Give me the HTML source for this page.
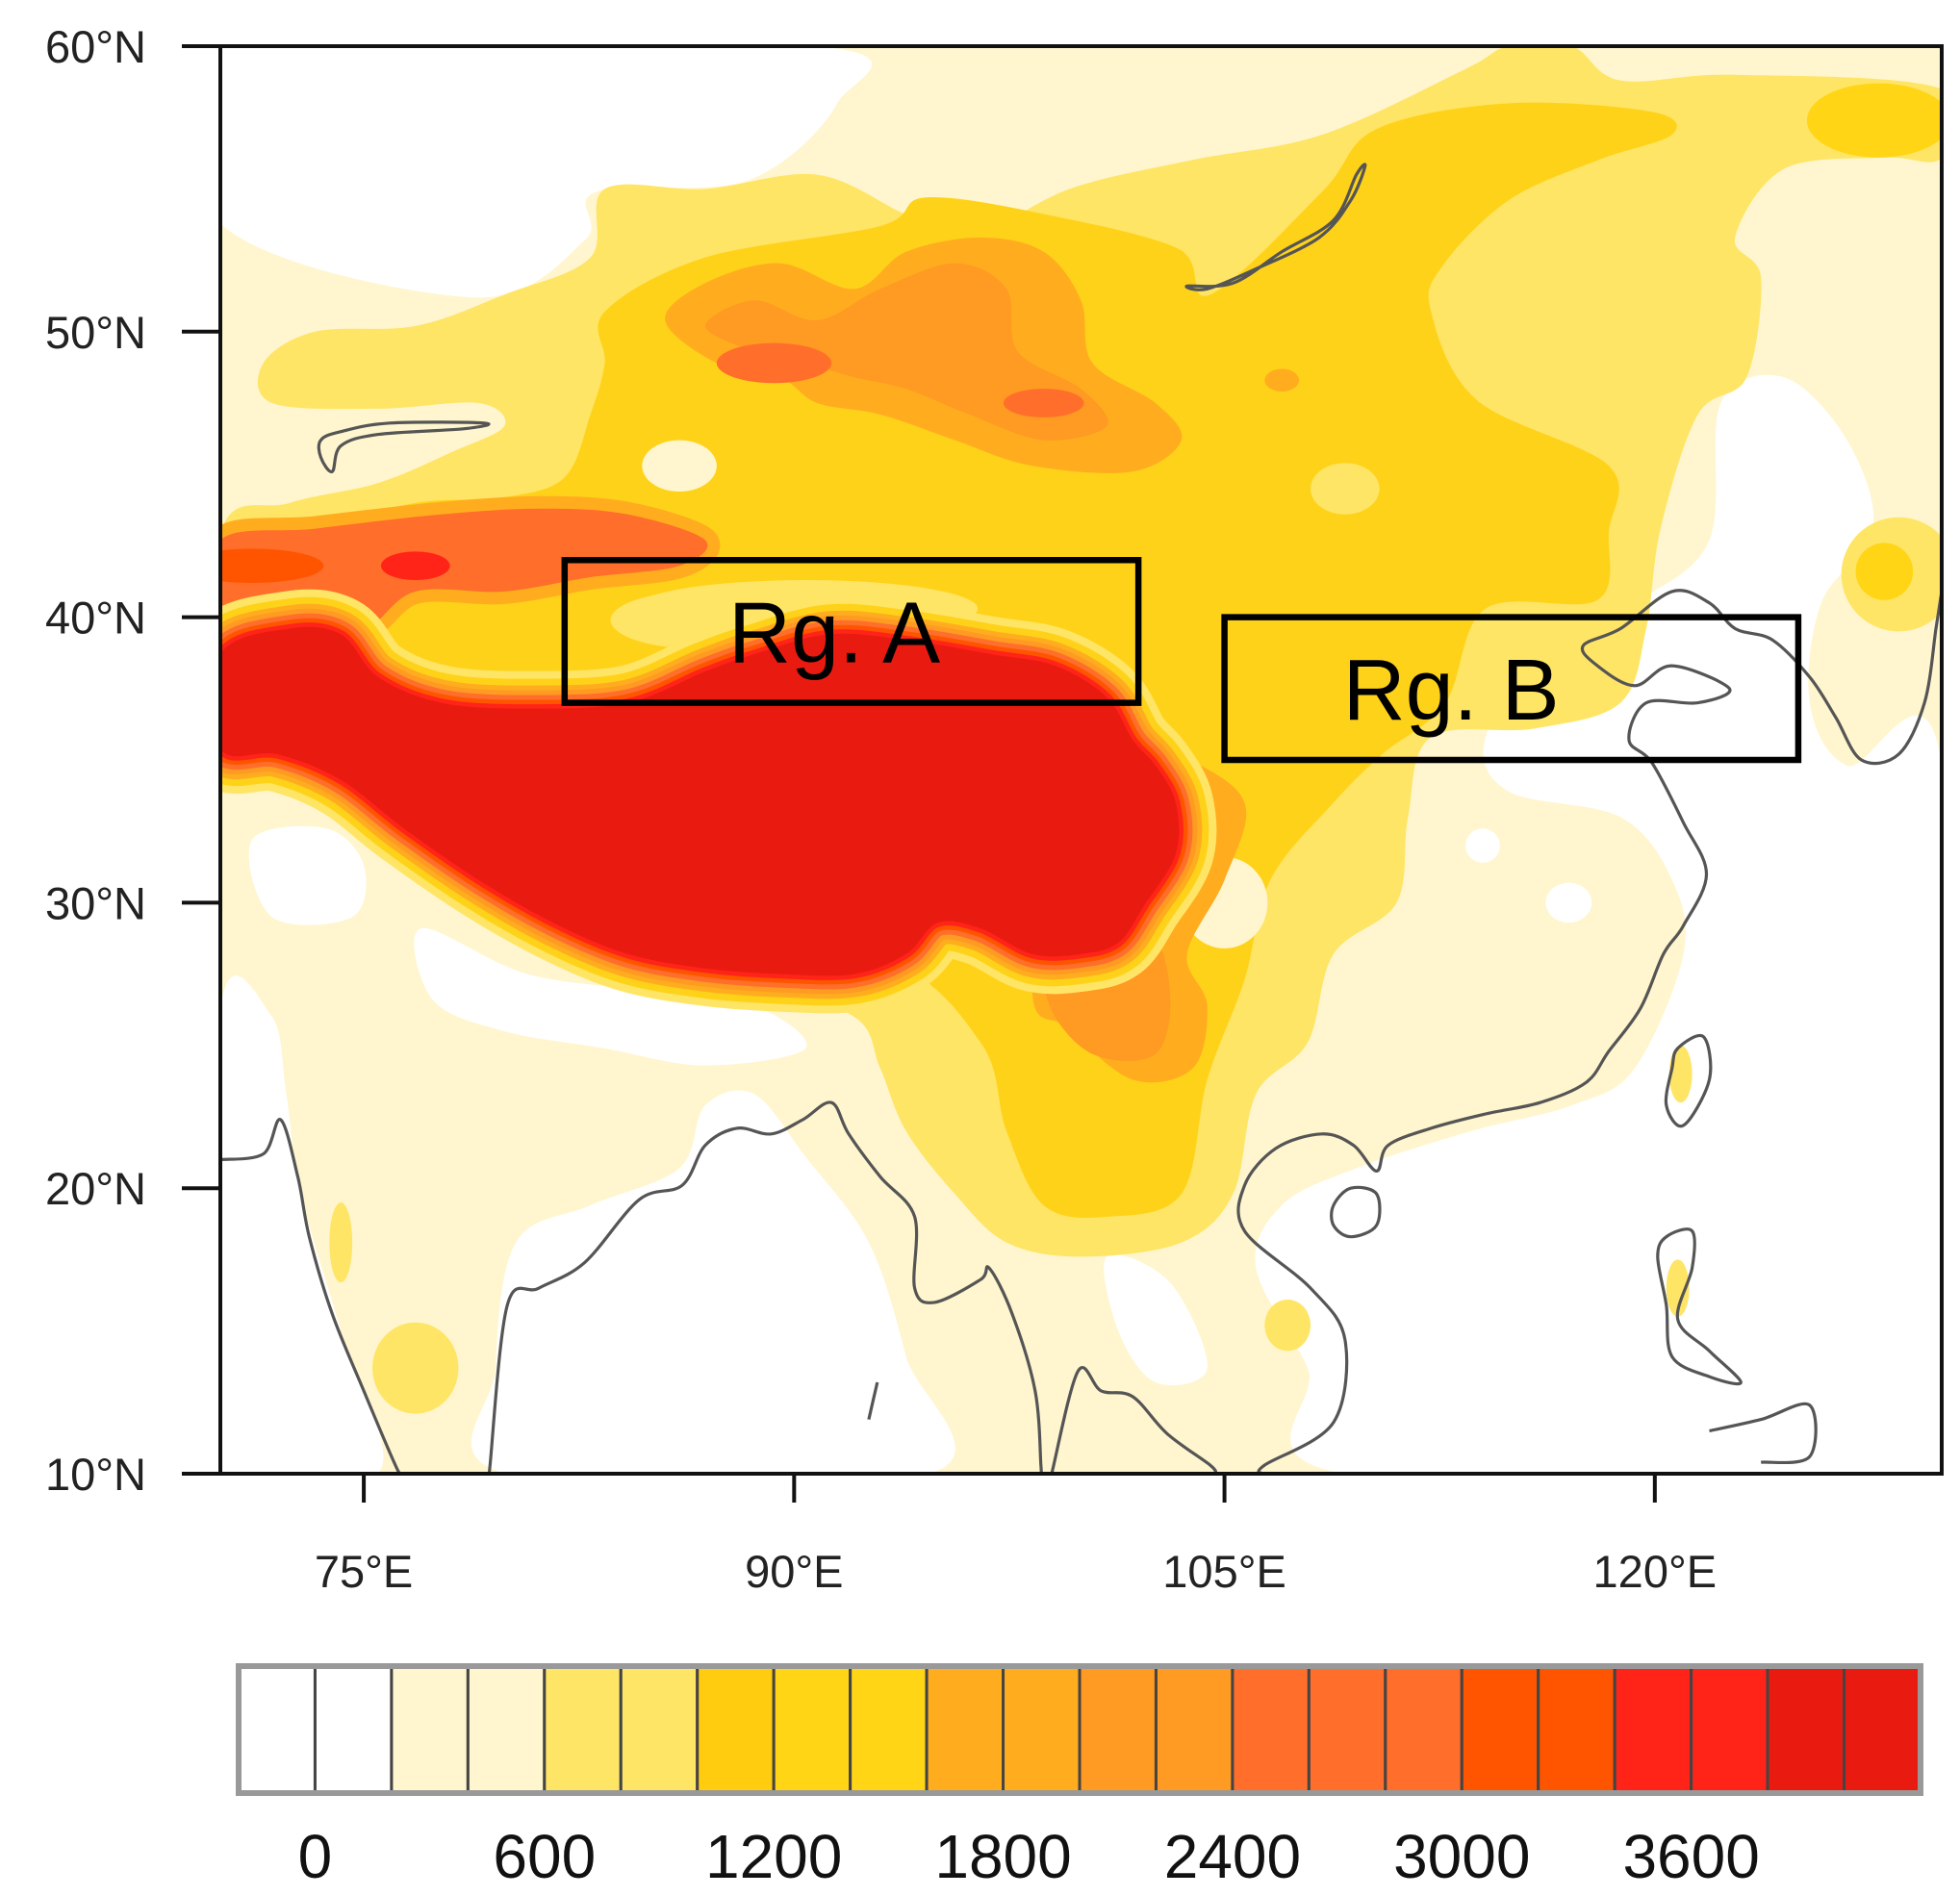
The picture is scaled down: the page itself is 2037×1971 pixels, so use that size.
<!DOCTYPE html>
<html><head><meta charset="utf-8">
<style>
html,body{margin:0;padding:0;background:#fff;}
svg{display:block;font-family:"Liberation Sans",Arial,sans-serif;}
</style></head>
<body>
<svg id="chart" width="2037" height="1971" viewBox="0 0 2037 1971" xmlns="http://www.w3.org/2000/svg">
<defs><clipPath id="frameClip"><rect x="229" y="48" width="1789" height="1484"/></clipPath></defs>
<g id="map" clip-path="url(#frameClip)"></g>
<g id="overlay"></g>
<g id="axes"></g>
<g id="cbar"></g>
</svg>
<script>
// ---- axis extents ----
const lonRange = [70, 130];
const latRange = [10, 60];
const lonTicks = [75, 90, 105, 120];
const lonTickLabels = ["75°E", "90°E", "105°E", "120°E"];
const latTicks = [60, 50, 40, 30, 20, 10];
const latTickLabels = ["60°N", "50°N", "40°N", "30°N", "20°N", "10°N"];
// ---- colorbar ----
const cbarColors = ["#ffffff","#ffffff","#fff6cf","#fff6cf","#ffe566","#ffe566","#ffcc10","#ffd516","#ffd516","#ffad1f","#ffad1f","#ff9a22","#ff9a22","#ff6e2a","#ff6e2a","#ff6e2a","#ff5500","#ff5500","#ff2318","#ff2318","#e91b10","#e91b10"];
const cbarLabels = ["0","600","1200","1800","2400","3000","3600"];
const cbarLabelIdx = [1,4,7,10,13,16,19];
// ---- contour regions (lon, lat) ----
const whiteNW = [[70,60],[90.8,60],[91.5,58],[88.4,55.3],[83.1,54.9],[82.7,53.2],[78.8,51.2],[70,53.8]];
const whiteEast = [[114.1,35.8],[116.2,38.8],[119.3,40.5],[121.9,42.7],[122.3,47.5],[124.5,48.4],[126.7,46.2],[127.6,43.1],[125.8,40.5],[125.4,37],[126.7,34.8],[130,34.8],[130,10],[109.2,10],[107.9,13.7],[106.1,17.2],[107,19.4],[109.6,20.7],[113.6,22],[117.1,22.9],[119.3,24.2],[121,28.2],[120.6,30.8],[118.8,33],[114.9,33.9]];
const whiteHimal = [[77,29.1],[80.7,27.5],[85.1,26.9],[88.6,26.4],[90.4,24.9],[86.9,24.3],[83.4,24.9],[79.9,25.5],[77.4,26.6]];
const whitePak = [[71.1,32.2],[73.7,32.6],[75,31.3],[74.6,29.5],[71.8,29.5]];
const whiteArab = [[70,26.2],[71.8,26],[72.3,23.3],[72.8,19.8],[74.2,15],[75.5,10],[70,10]];
const whiteBay = [[80,10],[79.6,13.7],[80.3,18.1],[82.9,19.4],[86,20.7],[86.9,22.9],[88.6,23.3],[90.4,21.1],[92.6,18.1],[93.9,14.1],[94.7,10]];
const whiteThai = [[100.9,17.6],[103.1,16.7],[104.4,13.7],[102.6,13.2],[101.3,15]];
const yellowMain = [[70,42.9],[72.4,44],[75.5,44.7],[78.1,45.8],[79.9,46.7],[79,47.5],[75.5,47.3],[71.8,47.5],[71.5,48.9],[73.3,50],[76.8,50.2],[79.9,51.3],[82.9,52.6],[83.4,55],[86.9,55],[90.8,55.5],[93.9,54.1],[96.1,53.3],[99.6,55],[103.8,56],[108.4,56.9],[113.4,59.2],[114.9,60],[117.1,60],[118.8,58.8],[122.8,59],[130,58.5],[130,56.1],[128,56.1],[124.5,55.7],[122.8,53.3],[123.7,51.9],[123.2,48.4],[121.5,47.1],[120.2,43.1],[119.7,39.6],[118.8,37],[115.8,36.1],[112.2,35.8],[111.4,33],[111,30],[108.8,28.2],[107.9,25.1],[106.1,23.3],[105.3,19.8],[103.5,18.1],[100,17.6],[97.4,18.1],[95.6,19.8],[93.9,22],[93,24.2],[92.1,26],[88.6,27.1],[83.4,27.7],[78.1,29.9],[74.6,33],[72,34.3],[70,34.8]];
const goldMain = [[83.4,50.7],[86.9,52.6],[93,53.7],[94.6,54.7],[98.8,54.1],[103.4,52.9],[104.5,51.3],[108.4,54.9],[110.3,57.1],[114.9,58],[119.9,57.7],[120.6,56.9],[118,56],[114.9,54.6],[112.6,52.3],[112.2,50.7],[113.8,47.6],[118.4,45.3],[118.4,43],[118,40.6],[114.1,40.3],[112.7,37],[110.5,35.2],[108.8,33.5],[106.6,30.8],[105.7,27.3],[104.4,23.8],[103.5,19.8],[100.9,19],[98.7,19.4],[97.4,22],[96.5,25.1],[93,28.2],[84.2,30.8],[75.5,37],[71.1,41.8],[73.3,43.1],[76.8,44],[79.9,44.2],[82,44.9],[82.9,47.1],[83.4,48.9]];
const orangeMongolia = [[85.5,50.4],[86.9,51.7],[89.5,52.4],[92.1,51.5],[93.9,52.8],[96.5,53.3],[98.7,52.8],[100,51.1],[100.4,48.9],[102.6,47.5],[103.5,46.2],[101.8,45.1],[98.3,45.3],[95.6,46.2],[93,47.1],[90.8,47.5],[89.5,48.4],[87.3,48.9]];
const orange2Mongolia = [[86.9,50.2],[88.6,51.1],[90.8,50.4],[93,51.5],[95.6,52.4],[97.4,51.5],[97.8,49.3],[100,48],[100.9,46.7],[98.7,46.2],[96.1,47.1],[93.9,48],[92.1,48.4],[90.4,48.9],[88.6,49.3]];
const orangeSE = [[100,37],[103.5,35.2],[105.7,33.5],[105,30.8],[103.7,28.2],[104.4,26.4],[103.9,24.2],[101.8,23.8],[99.6,25.6],[98.3,27.3]];
const orange2SE = [[99.1,28.2],[102.2,29.1],[103.1,26.9],[102.6,24.7],[100.4,24.7],[98.9,26.4]];
const bandNW = [[70,42.7],[73.3,43.1],[77.7,43.6],[81.2,43.8],[84.2,43.6],[86.9,42.7],[86,41.8],[82.9,41.4],[79.9,40.9],[76.8,40.9],[75,39.6],[72.8,40],[70,40]];
const tibetCore = [[70,38.7],[72.4,39.6],[74.2,39.4],[75.5,37.9],[77.7,37],[80.7,36.8],[84.2,37],[86.9,38.1],[88.6,38.7],[91.2,39.4],[93.9,39.2],[96.9,38.7],[99.1,38.3],[100.9,37.2],[101.8,35.7],[102.6,34.8],[103.3,33.5],[103.3,31.7],[102.2,29.9],[101.3,28.6],[100,28.2],[98.3,28.2],[96.5,29.1],[95,29.3],[93.9,28.2],[92.1,27.5],[89.5,27.5],[86.9,27.7],[84.2,28.2],[81.6,29.3],[79,30.8],[76.4,32.6],[74.2,34.3],[72,35.2],[70,35.4]];
// blobs: [lon, lat, rxDeg, ryDeg, color]
const blobs = [
 [76.8,13.7,1.5,1.6,"#ffe566"],[74.2,18.1,0.4,1.4,"#ffe566"],[107.2,15.2,0.8,0.9,"#ffe566"],
 [128.5,41.5,2,2,"#ffe566"],[128,41.6,1,1,"#ffd516"],[127.8,57.4,2.5,1.3,"#ffd516"],
 [109.2,44.5,1.2,0.9,"#ffe566"],[86.6,39.9,3,1,"#ffe566"],[90.4,40.3,6,1.0,"#ffe566"],
 [86,45.3,1.3,0.9,"#fff6cf"],[105,30,1.5,1.6,"#fff6cf"],[107,48.3,0.6,0.4,"#ffad1f"],
 [89.3,48.9,2,0.7,"#ff6e2a"],[98.7,47.5,1.4,0.5,"#ff6e2a"],[71.1,41.8,2.5,0.6,"#ff5500"],
 [76.8,41.8,1.2,0.5,"#ff2318"],[120.9,24,0.4,1.0,"#ffe566"],[120.8,16.5,0.4,1.0,"#ffe566"],
 [117,30,0.8,0.7,"#ffffff"],[114,32,0.6,0.6,"#ffffff"]
];
// ---- coastlines ----
const coastIndiaW = [[70,21],[71.5,21.2],[72.1,22.4],[72.7,20.4],[73.1,18.3],[73.9,15.6],[75,12.9],[76.1,10.3],[76.3,10]];
const coastIndiaE = [[79.4,10],[79.4,10.3],[80,15.9],[81.1,16.5],[82.7,17.4],[84.6,19.6],[86.1,20.1],[86.9,21.5],[88,22.1],[89.2,21.9],[90.3,22.4],[91.3,23],[91.9,21.9],[93,20.4],[94.2,19],[94.2,16.5],[94.9,16],[96.5,16.8],[96.8,17.2],[97.6,15.6],[98.4,12.9],[98.6,10.3],[98.6,10]];
const coastThai = [[99,10],[99,10.1],[99.9,13.6],[100.7,12.9],[101.8,12.7],[103,11.4],[104.5,10.3],[104.7,10]];
const coastChina = [[106.3,10],[106.4,10.3],[108.8,11.8],[109.2,14.7],[108,16.5],[105.7,18.5],[105.7,20.1],[106.8,21.4],[108.4,21.9],[109.5,21.5],[110.3,20.6],[110.7,21.5],[112.2,22.1],[114.1,22.6],[116,23],[117.6,23.7],[118.4,24.8],[119.5,26.3],[120.3,28.2],[121,29.2],[121.8,31],[121,32.8],[119.9,34.9],[119.1,35.7],[119.7,37],[121.5,37],[122.6,37.5],[120.6,38.3],[119.3,37.6],[118,38.3],[117.5,39],[118.8,39.6],[120.6,40.9],[121.9,40.5],[122.8,39.6],[124.1,39.2],[125.4,37.9],[126.3,36.5],[127.2,35],[128.5,35.2],[129.4,37],[129.8,39.6],[130,40.9]];
const coastHainan = [[108.8,19.4],[109.4,20],[110.3,19.8],[110.3,18.7],[109.4,18.3],[108.8,18.7]];
const coastTaiwan = [[120.8,24.9],[121.7,25.3],[121.9,23.8],[121,22.2],[120.4,22.9],[120.6,24.2]];
const coastLuzon = [[120.4,18.3],[121.3,18.5],[121.3,17.2],[120.8,15.4],[121.9,14.3],[123,13.2],[121.9,13.4],[120.6,14.1],[120.4,15.9],[120.1,17.6]];
const coastVisayas = [[121.9,11.5],[123.7,11.9],[125.4,12.4],[125.4,10.6],[123.7,10.4]];
const coastBaikal = [[103.7,51.6],[105.3,51.7],[107,52.8],[108.8,53.9],[109.6,55.5],[109.9,55.8],[109.4,54.6],[108.3,53.3],[106.1,52.2],[104.4,51.5]];
const coastBalkhash = [[73.5,46.2],[74.2,46.5],[75.9,46.8],[79.2,46.8],[78.5,46.6],[75.5,46.4],[74.2,46],[73.9,45.1],[73.5,45.6]];
const coastAndaman = [[92.9,13.2],[92.6,11.9]];
// ---- region boxes [lon0, lat0, lon1, lat1, label, labelLonOffset] ----
const boxA = [82, 37, 102, 42, "Rg. A", -0.6];
const boxB = [105, 35, 125, 40, "Rg. B", -2.1];

// ---- axis functions ----
const X0 = 229, X1 = 2018, Y0 = 48, Y1 = 1532;
function X(lon){ return X0 + (lon - lonRange[0]) / (lonRange[1] - lonRange[0]) * (X1 - X0); }
function Y(lat){ return Y0 + (latRange[1] - lat) / (latRange[1] - latRange[0]) * (Y1 - Y0); }
const NS = "http://www.w3.org/2000/svg";
function mk(tag, attrs, parent){
  const e = document.createElementNS(NS, tag);
  for (const k in attrs) e.setAttribute(k, attrs[k]);
  parent.appendChild(e); return e;
}
function smoothPath(pts, closed){
  const p = pts.map(q => [X(q[0]), Y(q[1])]);
  const n = p.length;
  let d = "M" + p[0][0].toFixed(1) + "," + p[0][1].toFixed(1);
  const last = closed ? n : n - 1;
  for (let i = 0; i < last; i++){
    const p0 = p[closed ? (i - 1 + n) % n : Math.max(i - 1, 0)];
    const p1 = p[i], p2 = p[(i + 1) % n];
    const p3 = p[closed ? (i + 2) % n : Math.min(i + 2, n - 1)];
    const c1 = [p1[0] + (p2[0] - p0[0]) / 6, p1[1] + (p2[1] - p0[1]) / 6];
    const c2 = [p2[0] - (p3[0] - p1[0]) / 6, p2[1] - (p3[1] - p1[1]) / 6];
    d += "C" + c1[0].toFixed(1) + "," + c1[1].toFixed(1) + " " + c2[0].toFixed(1) + "," + c2[1].toFixed(1) + " " + p2[0].toFixed(1) + "," + p2[1].toFixed(1);
  }
  if (closed) d += "Z";
  return d;
}
const map = document.getElementById("map");
function region(pts, fill, name, stroke, sw){
  const el = mk("path", {d: smoothPath(pts, true), fill: fill, stroke: stroke || "none", "stroke-width": sw || 0, "stroke-linejoin": "round"}, map);
  
  
  return el;
}
function drawBlob(b){
  const el = mk("ellipse", {cx: X(b[0]), cy: Y(b[1]), rx: Math.abs(X(b[0] + b[2]) - X(b[0])), ry: Math.abs(Y(b[1] + b[3]) - Y(b[1])), fill: b[4]}, map);
  
  
}
const bg = mk("rect", {x: X0, y: Y0, width: X1 - X0, height: Y1 - Y0, fill: "#fff6cf"}, map);


region(whiteNW, "#ffffff", "contour-low-northwest");
region(whiteEast, "#ffffff", "contour-low-east");
region(whiteHimal, "#ffffff", "contour-low-himalaya-south");
region(whitePak, "#ffffff", "contour-low-pakistan");
region(whiteArab, "#ffffff", "contour-low-arabian-sea");
region(whiteBay, "#ffffff", "contour-low-bay-of-bengal");
region(whiteThai, "#ffffff", "contour-low-thailand");
region(yellowMain, "#ffe566", "contour-600-1000");
blobs.slice(0, 4).forEach(b => drawBlob(b));
region(goldMain, "#ffd21a", "contour-1000-1600");
blobs.slice(4, 12).forEach(b => drawBlob(b));
region(orangeMongolia, "#ffad1f", "contour-1600-2000-mongolia");
region(orange2Mongolia, "#ff9a22", "contour-2000-2400-mongolia");
region(orangeSE, "#ffad1f", "contour-1600-2000-southeast");
region(orange2SE, "#ff9a22", "contour-2000-2400-southeast");
region(bandNW, "#ff6e2a", "contour-tianshan-band", "#ffad1f", 26);
region(bandNW, "#ff6e2a", "contour-tianshan-core");
blobs.slice(12).forEach(b => drawBlob(b));
const margins = [["#ffe566", 78], ["#ffd21a", 62], ["#ffad1f", 48], ["#ff9a22", 38], ["#ff6e2a", 28], ["#ff5500", 18], ["#ff2318", 9]];
margins.forEach((m, i) => {
  const el = mk("path", {d: smoothPath(tibetCore, true), fill: m[0], stroke: m[0], "stroke-width": m[1], "stroke-linejoin": "round"}, map);
  
  
});
region(tibetCore, "#e91b10", "contour-above-4200-tibet");
const coasts = [[coastIndiaW,false],[coastIndiaE,false],[coastThai,false],[coastChina,false],[coastHainan,true],[coastTaiwan,true],[coastLuzon,true],[coastVisayas,false],[coastBaikal,true],[coastBalkhash,true],[coastAndaman,false]];
coasts.forEach(c => {
  const el = mk("path", {d: smoothPath(c[0], c[1]), fill: "none", stroke: "#555", "stroke-width": 3.2, "stroke-linejoin": "round"}, map);
  
  
});
const overlay = document.getElementById("overlay");
[boxA, boxB].forEach((bx, i) => {
  const r = mk("rect", {x: X(bx[0]), y: Y(bx[3]), width: X(bx[2]) - X(bx[0]), height: Y(bx[1]) - Y(bx[3]), fill: "none", stroke: "#000", "stroke-width": 6.5}, overlay);
  
  
  const t = mk("text", {x: X((bx[0] + bx[2]) / 2 + bx[5]), y: (Y(bx[1]) + Y(bx[3])) / 2 + 32, "text-anchor": "middle", "font-size": 90, fill: "#000"}, overlay);
  t.textContent = bx[4];
  
  
});
const axes = document.getElementById("axes");
const frame = mk("rect", {x: X0, y: Y0, width: X1 - X0, height: Y1 - Y0, fill: "none", stroke: "#111", "stroke-width": 4}, axes);


latTicks.forEach((v, i) => {
  const tk = mk("line", {x1: 189, x2: X0, y1: Y(v), y2: Y(v), stroke: "#111", "stroke-width": 4}, axes);
  
  
  const t = mk("text", {x: 152, y: Y(v) + 17, "text-anchor": "end", "font-size": 47, fill: "#222"}, axes);
  t.textContent = latTickLabels[i];
  
  
});
lonTicks.forEach((v, i) => {
  const tk = mk("line", {x1: X(v), x2: X(v), y1: Y1, y2: 1562, stroke: "#111", "stroke-width": 4}, axes);
  
  
  const t = mk("text", {x: X(v), y: 1650, "text-anchor": "middle", "font-size": 47, fill: "#222"}, axes);
  t.textContent = lonTickLabels[i];
  
  
});
const cbar = document.getElementById("cbar");
const CB0 = 248, CB1 = 1996, CBT = 1732, CBB = 1864;
const bw = (CB1 - CB0) / cbarColors.length;
cbarColors.forEach((c, i) => {
  const r = mk("rect", {x: CB0 + i * bw, y: CBT, width: bw, height: CBB - CBT, fill: c, stroke: "#444", "stroke-width": 3}, cbar);
  
  
});
const cbFrame = mk("rect", {x: CB0, y: CBT, width: CB1 - CB0, height: CBB - CBT, fill: "none", stroke: "#999", "stroke-width": 6}, cbar);


cbarLabels.forEach((l, i) => {
  const t = mk("text", {x: CB0 + cbarLabelIdx[i] * bw, y: 1952, "text-anchor": "middle", "font-size": 64, fill: "#111"}, cbar);
  t.textContent = l;
  
  
});
</script>
</body></html>
